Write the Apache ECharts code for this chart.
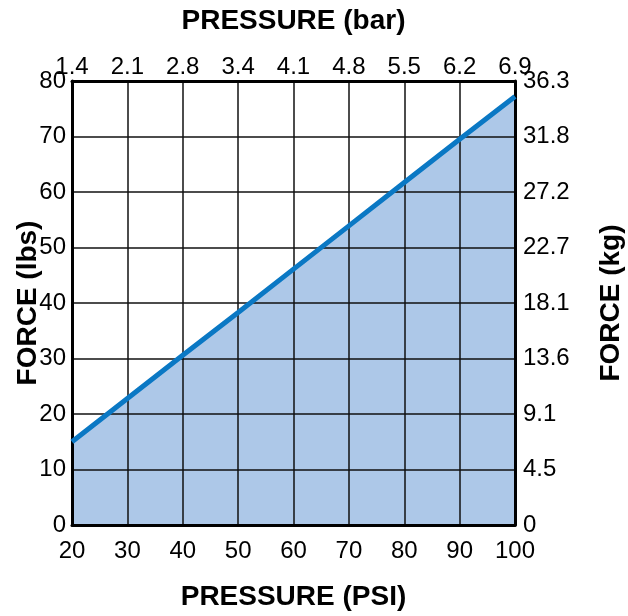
<!DOCTYPE html>
<html><head><meta charset="utf-8">
<script src="https://cdn.jsdelivr.net/npm/echarts@6/dist/echarts.min.js"></script>
<style>html,body{margin:0;padding:0;background:#fff}#c{width:628px;height:616px}</style>
</head><body><div id="c"></div>
<script>
const psi = [20, 30, 40, 50, 60, 70, 80, 90, 100];
const forceLbs = [15.0, 22.8, 30.6, 38.3, 46.1, 53.9, 61.7, 69.5, 77.2];
const barLabels = ['1.4', '2.1', '2.8', '3.4', '4.1', '4.8', '5.5', '6.2', '6.9'];
const kgLabels = ['0', '4.5', '9.1', '13.6', '18.1', '22.7', '27.2', '31.8', '36.3'];

const FONT = '"Liberation Sans", Arial, sans-serif';
const tickStyle = {fontFamily: FONT, fontSize: 24, color: '#000'};
const titleStyle = {fontFamily: FONT, fontSize: 28, fontWeight: 'bold', color: '#000'};
const grid = {lineStyle: {color: '#111', width: 1.5}};
const axisLine = {lineStyle: {color: '#000', width: 3}};
const pts = psi.map((p, i) => [p, forceLbs[i]]);

const chart = echarts.init(document.getElementById('c'), null, {renderer: 'canvas'});
chart.setOption({
  animation: false,
  grid: {left: 72, right: 113, top: 81, bottom: 91, containLabel: false, outerBoundsMode: 'none'},
  xAxis: [
    {type: 'value', position: 'bottom', min: 20, max: 100, interval: 10, z: 2,
     axisLine: {show: true, onZero: false, ...axisLine}, axisTick: {show: false},
     splitLine: {show: true, ...grid},
     axisLabel: {...tickStyle, margin: 14},
     name: 'PRESSURE (PSI)', nameLocation: 'middle', nameGap: 58, nameMoveOverlap: false, nameTextStyle: titleStyle},
    {type: 'value', position: 'top', min: 20, max: 100, interval: 10, z: 2,
     axisLine: {show: true, onZero: false, ...axisLine}, axisTick: {show: false},
     splitLine: {show: false},
     axisLabel: {...tickStyle, margin: 2, formatter: v => barLabels[Math.round((v - 20) / 10)]},
     name: 'PRESSURE (bar)', nameLocation: 'middle', nameGap: 46, nameMoveOverlap: false, nameTextStyle: titleStyle}
  ],
  yAxis: [
    {type: 'value', position: 'left', min: 0, max: 80, interval: 10, z: 2,
     axisLine: {show: true, onZero: false, ...axisLine}, axisTick: {show: false},
     splitLine: {show: true, ...grid},
     axisLabel: {...tickStyle, margin: 6},
     name: 'FORCE (lbs)', nameLocation: 'middle', nameRotate: 90, nameGap: 30, nameMoveOverlap: false, nameTextStyle: titleStyle},
    {type: 'value', position: 'right', min: 0, max: 80, interval: 10, z: 2,
     axisLine: {show: true, onZero: false, ...axisLine}, axisTick: {show: false},
     splitLine: {show: false},
     axisLabel: {...tickStyle, margin: 8, formatter: v => kgLabels[Math.round(v / 10)]},
     name: 'FORCE (kg)', nameLocation: 'middle', nameRotate: 90, nameGap: 82, nameMoveOverlap: false, nameTextStyle: titleStyle}
  ],
  series: [
    {type: 'line', xAxisIndex: 0, yAxisIndex: 0, data: pts,
     symbol: 'none', lineStyle: {width: 0, opacity: 0},
     areaStyle: {color: '#adc8e8', opacity: 1, origin: 'start'}, z: 1, silent: true},
    {type: 'line', xAxisIndex: 0, yAxisIndex: 0, data: pts,
     symbol: 'none', lineStyle: {color: '#0a78c4', width: 5}, z: 3}
  ]
});
</script></body></html>
